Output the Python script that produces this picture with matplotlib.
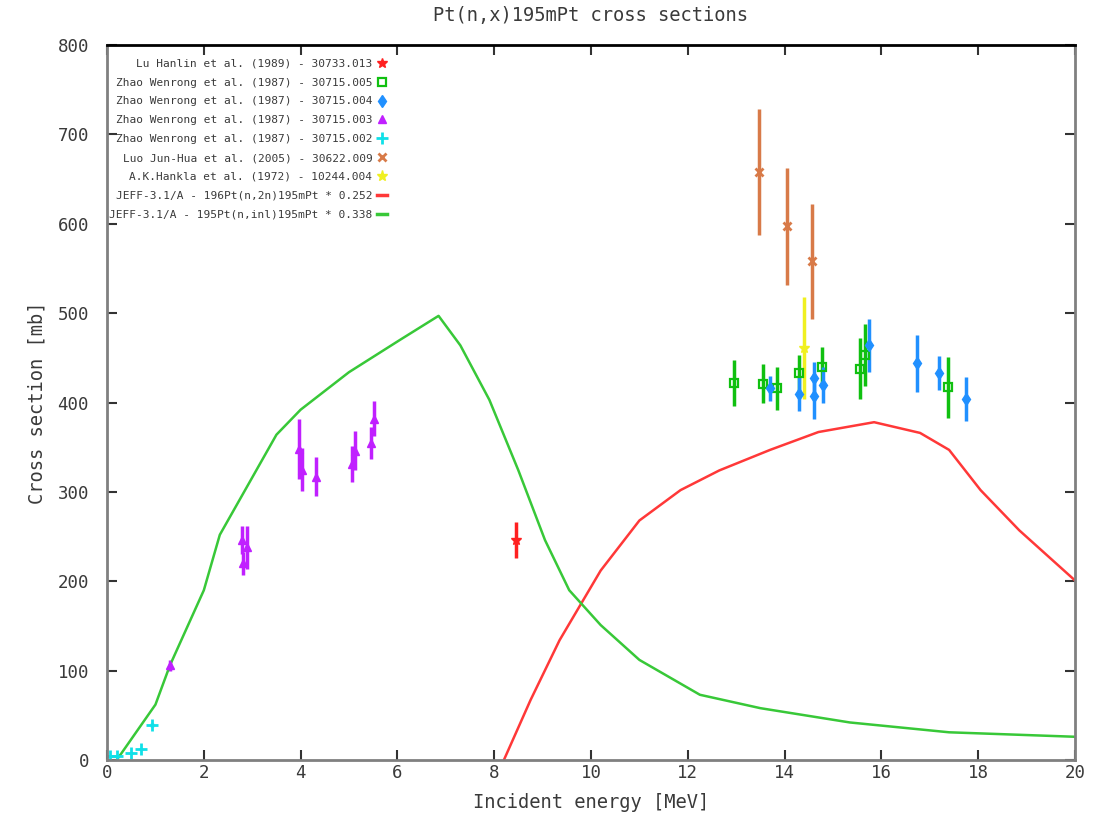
import matplotlib
matplotlib.use("Agg")
import matplotlib.pyplot as plt
from matplotlib.lines import Line2D

# ---------------------------------------------------------------------------
# Data
# ---------------------------------------------------------------------------

# Lu Hanlin et al. (1989)
lu_x = [8.45]
lu_y = [246]
lu_e = [20]

# Zhao Wenrong et al. (1987) - 30715.005
z5_x = [12.95, 13.55, 13.85, 14.3, 14.77, 15.56, 15.66, 17.38]
z5_y = [422, 421, 416, 433, 440, 438, 453, 417]
z5_e = [26, 22, 24, 20, 22, 34, 35, 34]

# Zhao Wenrong et al. (1987) - 30715.004
z4_x = [13.7, 14.3, 14.6, 14.6, 14.8, 15.75, 16.74, 17.2, 17.75]
z4_y = [416, 410, 407, 427, 420, 464, 444, 433, 404]
z4_e = [14, 19, 25, 18, 20, 30, 32, 19, 25]

# Zhao Wenrong et al. (1987) - 30715.003
z3_x = [1.3, 2.79, 2.89, 2.81, 3.97, 4.03, 4.32, 5.06, 5.12, 5.45, 5.52]
z3_y = [106, 246, 238, 220, 348, 325, 317, 331, 346, 355, 382]
z3_e = [6, 16, 24, 13, 34, 24, 22, 20, 22, 18, 20]

# Zhao Wenrong et al. (1987) - 30715.002
z2_x = [0.06, 0.2, 0.5, 0.7, 0.93]
z2_y = [5, 5, 8, 12, 39]
z2_e = [1, 1, 1, 1, 2]

# Luo Jun-Hua et al. (2005)
luo_x = [13.47, 14.05, 14.57]
luo_y = [658, 597, 558]
luo_e = [70, 66, 64]

# A.K.Hankla et al. (1972)
hk_x = [14.4]
hk_y = [461]
hk_e = [57]

# JEFF-3.1/A 196Pt(n,2n)195mPt * 0.252
n2n_x = [8.2, 8.75, 9.35, 10.2, 11.0, 11.85, 12.65, 13.7, 14.7, 15.85,
         16.8, 17.4, 18.05, 18.85, 20.0]
n2n_y = [0, 67, 134, 212, 268, 302, 324, 347, 367, 378,
         366, 347, 302, 257, 201]

# JEFF-3.1/A 195Pt(n,inl)195mPt * 0.338
inl_x = [0.2, 1.0, 1.3, 2.0, 2.33, 3.5, 4.0, 5.0, 6.05, 6.85,
         7.3, 7.9, 8.5, 9.05, 9.55, 10.2, 11.0, 12.25, 13.5, 15.35,
         17.4, 20.0]
inl_y = [0, 62, 106, 190, 252, 364, 392, 434, 470, 497,
         464, 403, 324, 246, 190, 151, 112, 73, 58, 42,
         31, 26]

labels = [
    "Lu Hanlin et al. (1989) - 30733.013",
    "Zhao Wenrong et al. (1987) - 30715.005",
    "Zhao Wenrong et al. (1987) - 30715.004",
    "Zhao Wenrong et al. (1987) - 30715.003",
    "Zhao Wenrong et al. (1987) - 30715.002",
    "Luo Jun-Hua et al. (2005) - 30622.009",
    "A.K.Hankla et al. (1972) - 10244.004",
    "JEFF-3.1/A - 196Pt(n,2n)195mPt * 0.252",
    "JEFF-3.1/A - 195Pt(n,inl)195mPt * 0.338",
]

# ---------------------------------------------------------------------------
# Plot
# ---------------------------------------------------------------------------

plt.rcParams["font.family"] = "DejaVu Sans Mono"

C_LU, C_Z5, C_Z4, C_Z3 = "#ff2020", "#10c010", "#2090ff", "#c020ff"
C_Z2, C_LUO, C_HK = "#10e0e8", "#d87a48", "#f0f020"
C_N2N, C_INL = "#ff3838", "#38c838"
C_TXT = "#3a3a3a"

fig = plt.figure(figsize=(10.98, 8.18), dpi=100)
ax = fig.add_axes([0.0975, 0.0709, 0.8815, 0.874])

# (x, y, err, colour, marker, extra marker style)
series = [
    (lu_x, lu_y, lu_e, C_LU, "*", dict(ms=7)),
    (z5_x, z5_y, z5_e, C_Z5, "s", dict(ms=6, mfc="none", mew=1.6)),
    (z4_x, z4_y, z4_e, C_Z4, "d", dict(ms=6)),
    (z3_x, z3_y, z3_e, C_Z3, "^", dict(ms=6)),
    (z2_x, z2_y, z2_e, C_Z2, "+", dict(ms=9, mew=2)),
    (luo_x, luo_y, luo_e, C_LUO, "x", dict(ms=6, mew=2)),
    (hk_x, hk_y, hk_e, C_HK, "*", dict(ms=8)),
]

handles = []
for xs, ys, es, col, mk, kw in series:
    ax.errorbar(xs, ys, yerr=es, color=col, marker=mk, linestyle="none",
                elinewidth=2.5, capsize=0, **kw)
    handles.append(Line2D([], [], color=col, marker=mk, linestyle="none", **kw))

ax.plot(n2n_x, n2n_y, color=C_N2N, lw=1.8)
ax.plot(inl_x, inl_y, color=C_INL, lw=1.8)
handles.append(Line2D([], [], color=C_N2N, lw=2.5))
handles.append(Line2D([], [], color=C_INL, lw=2.5))

ax.set_xlim(0, 20)
ax.set_ylim(0, 800)
ax.set_xticks(range(0, 21, 2))
ax.set_yticks(range(0, 801, 100))
ax.tick_params(direction="in", length=7, width=1.5, top=True, right=True,
               labelsize=12.5, labelcolor=C_TXT, color="#333333", pad=3)
ax.tick_params(axis="y", pad=13)
for s in ax.spines.values():
    s.set_color("#808080")
    s.set_linewidth(2)
ax.spines["top"].set_color("#000000")

ax.set_title("Pt(n,x)195mPt cross sections", fontsize=13.5, pad=17,
             color=C_TXT)
ax.set_xlabel("Incident energy [MeV]", fontsize=13.5, labelpad=8,
              color=C_TXT)
ax.set_ylabel("Cross section [mb]", fontsize=13.5, labelpad=8,
              color=C_TXT)

leg = ax.legend(handles, labels, loc="upper right", markerfirst=False,
                frameon=False, fontsize=8, handlelength=0.9,
                handletextpad=0.4, labelspacing=0.8, borderaxespad=0,
                borderpad=0, bbox_to_anchor=(0.289, 0.981))
for txt in leg.get_texts():
    txt.set_ha("right")
    txt.set_color(C_TXT)
leg._legend_box.align = "right"

fig.savefig("out.png", dpi=100)
